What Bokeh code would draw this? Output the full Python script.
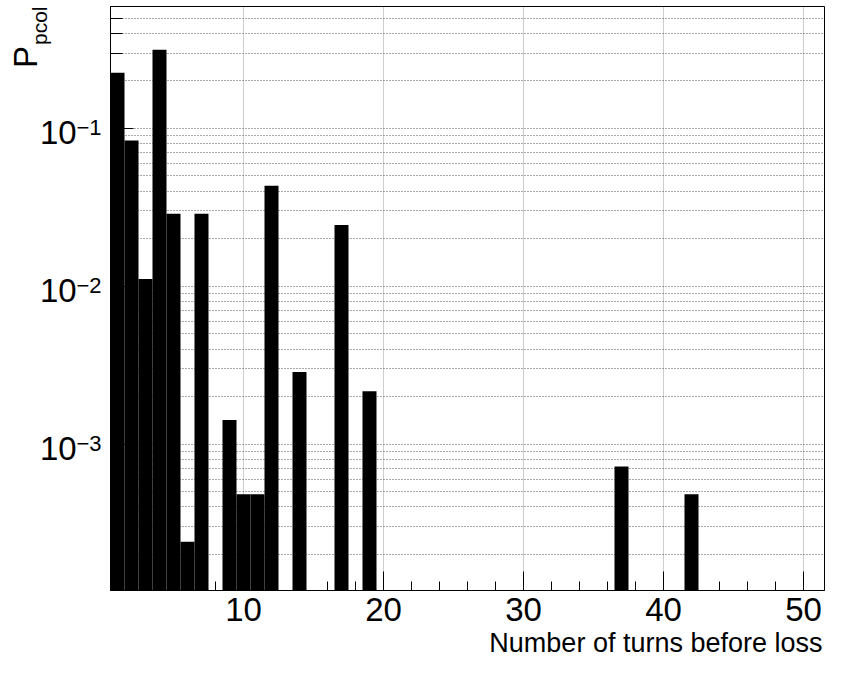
import math
from bokeh.plotting import figure
from bokeh.models import FixedTicker, Range1d
from bokeh.core.properties import value
from bokeh.embed import file_html
from bokeh.resources import INLINE

# ---- data ----
turns = [1, 2, 3, 4, 5, 6, 7, 9, 10, 11, 12, 14, 17, 19, 37, 42]
p_pcol = [0.225, 0.0838, 0.0111, 0.315, 0.0288, 0.00024, 0.0288, 0.00142,
          0.00048, 0.00048, 0.0433, 0.00286, 0.0244, 0.00216, 0.00072, 0.00048]
bin_width = 1.0

x_major = [10, 20, 30, 40, 50]
x_minor = [2, 4, 6, 8, 12, 14, 16, 18, 22, 24, 26, 28, 32, 34, 36, 38, 42, 44, 46, 48]
y_major = [1e-3, 1e-2, 1e-1]
y_major_exp = ["\u22123", "\u22122", "\u22121"]
x_title = "Number of turns before loss"

X_START, X_END = 0.5, 51.5
Y_START, Y_END = 1.18e-4, 0.592

y_minor = [m * 10.0 ** e for e in range(-4, 0) for m in range(2, 10)
           if Y_START < m * 10.0 ** e < Y_END]

FONT = value("Liberation Sans")

p = figure(width=825, height=659,
           x_range=Range1d(X_START, X_END), y_range=Range1d(Y_START, Y_END),
           y_axis_type="log", output_backend="svg", toolbar_location=None,
           min_border_left=110, min_border_right=1, min_border_top=6,
           min_border_bottom=69)
p.background_fill_color = "white"
p.border_fill_color = "white"
p.outline_line_color = "black"
p.outline_line_width = 1

# bars
p.quad(left=[t - bin_width / 2 for t in turns],
       right=[t + bin_width / 2 for t in turns],
       bottom=[1e-7] * len(turns), top=p_pcol,
       fill_color="black", line_color=None)

# x axis
p.xaxis.ticker = FixedTicker(ticks=x_major, minor_ticks=x_minor)
p.xaxis.major_tick_in = 19
p.xaxis.major_tick_out = 0
p.xaxis.minor_tick_in = 9
p.xaxis.minor_tick_out = 0
p.xaxis.major_tick_line_color = "black"
p.xaxis.minor_tick_line_color = "black"
p.xaxis.axis_line_color = "black"
p.xaxis.major_label_text_font = "Liberation Sans"
p.xaxis.major_label_text_font_size = "33px"
p.xaxis.major_label_text_color = "black"
p.xaxis.major_label_standoff = 7

# y axis
p.yaxis.ticker = FixedTicker(ticks=y_major, minor_ticks=y_minor)
p.yaxis.major_tick_in = 23
p.yaxis.major_tick_out = 0
p.yaxis.minor_tick_in = 12
p.yaxis.minor_tick_out = 0
p.yaxis.major_tick_line_color = "black"
p.yaxis.minor_tick_line_color = "black"
p.yaxis.axis_line_color = "black"
p.yaxis.major_label_text_color = None

# grids
p.xgrid.grid_line_color = "#9a9a9a"
p.xgrid.grid_line_dash = "1 1"
p.xgrid.minor_grid_line_color = None
p.ygrid.grid_line_color = "#555555"
p.ygrid.grid_line_dash = "1 2"
p.ygrid.minor_grid_line_color = "#555555"
p.ygrid.minor_grid_line_dash = "1 2"

# y tick labels 10^n  (overlay level -> drawn outside the frame, not clipped)
n = len(y_major)
p.text(x=[X_START] * n, y=y_major, text=["10"] * n, x_offset=-70.5, y_offset=4,
       text_font=FONT, text_font_size=value("33px"), text_color="black",
       text_align="left", text_baseline="alphabetic", level="overlay")
p.text(x=[X_START] * n, y=y_major, text=y_major_exp, x_offset=-34, y_offset=-1,
       text_font=FONT, text_font_size=value("22px"), text_color="black",
       text_align="left", text_baseline="alphabetic", level="overlay")

# axis titles
p.text(x=[X_END], y=[Y_START], text=[x_title], x_offset=-2, y_offset=52,
       text_font=FONT, text_font_size=value("27px"), text_color="black",
       text_align="right", text_baseline="alphabetic", level="overlay")
p.text(x=[X_START], y=[Y_END], text=["P"], x_offset=-85, y_offset=61.5,
       angle=math.pi / 2, text_font=FONT, text_font_size=value("33px"),
       text_color="black", text_align="left", text_baseline="alphabetic",
       level="overlay")
p.text(x=[X_START], y=[Y_END], text=["pcol"], x_offset=-71, y_offset=38.5,
       angle=math.pi / 2, text_font=FONT, text_font_size=value("21px"),
       text_color="black", text_align="left", text_baseline="alphabetic",
       level="overlay")

open("out.html", "w").write(file_html(p, INLINE))
